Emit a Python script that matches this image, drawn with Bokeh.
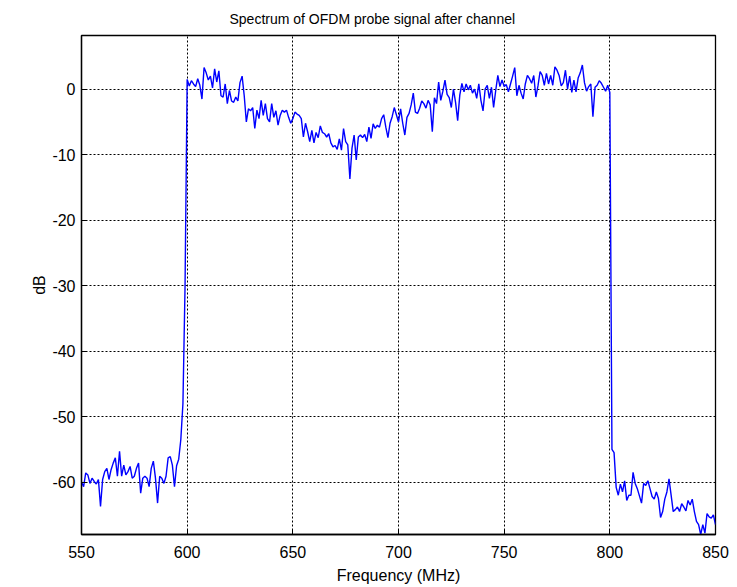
from bokeh.plotting import figure
from bokeh.models import Range1d, FixedTicker, ColumnDataSource, PrintfTickFormatter
from bokeh.embed import file_html
from bokeh.resources import INLINE

# ---- data ----
freq_start = 550  # MHz, 1 MHz spacing
pre_band = [
    -60.0, -60.7, -58.6, -58.9, -60.2, -59.4, -59.9, -60.3, -59.6, -63.7,
    -59.6, -58.4, -57.9, -59.6, -58.1, -57.1, -56.3, -59.1, -55.3, -59.1,
    -57.4, -58.9, -58.4, -57.6, -59.4, -59.1, -57.9, -57.1, -61.7, -59.4,
    -59.1, -59.4, -60.7, -57.9, -56.8, -59.4, -63.2, -59.1, -59.4, -60.2,
    -59.1, -56.3, -56.1, -57.4, -60.7, -57.5, -56.5, -53.5, -48.0, -30.0,
]
band_low = [
    1.5, 0.5, 1.3, 0.8, 0.4, 1.6, 0.6, -1.5, 3.3, 2.5,
    1.4, 2.0, 0.2, 3.1, 1.1, 2.8, -1.0, -1.2, 0.8, -2.2,
    -0.2, -1.8, -2.0, -1.2, -1.8, 1.0, 2.0, -1.0, -5.0, -3.0,
    -3.3, -2.8, -6.0, -3.2, -4.5, -1.7, -4.0, -2.2, -4.5, -5.0,
    -2.2, -4.3, -3.3, -5.5, -4.0, -3.2, -3.5, -3.2, -4.3, -5.2,
    -4.5, -3.5, -3.8, -4.0, -4.5, -7.3, -5.2, -6.5, -8.0, -6.3,
    -8.2, -6.6, -7.4, -5.6, -6.6, -6.8, -7.3, -6.8, -8.2, -8.8,
    -8.6, -9.2, -7.6, -9.3, -6.0, -8.0, -8.5, -13.7, -9.0, -7.0,
    -10.8, -7.3, -7.0, -7.4, -6.9, -8.0, -5.8, -7.5, -5.3, -6.0,
    -5.5, -5.8, -4.5, -3.9, -5.8, -7.4, -5.2, -4.2, -2.8, -3.9,
]
band_high = [
    -5.0, -3.0, -5.2, -7.0, -4.3, -3.7, -2.4, -0.6, -3.5, -3.7,
    -2.9, -1.8, -2.2, -2.9, -1.7, -2.4, -6.5, -1.3, -2.2, 1.1,
    -1.7, -0.3, 1.4, -0.8, -1.3, -2.8, 0.0, -2.0, -4.8, -0.9,
    0.9, -0.4, 0.8, -0.1, 0.6, -0.6, 0.0, -1.4, 0.8, -1.7,
    -3.3, 0.0, 0.6, -1.4, 0.3, -2.8, -0.2, 2.1, 0.4, 1.4,
    0.4, 0.7, -0.4, 0.8, 2.0, 3.3, -1.0, 0.6, -0.6, -1.5,
    0.8, 2.1, 1.6, 0.9, 2.1, -1.2, 0.5, 2.7, 2.1, 0.6,
    2.4, 0.8, 2.1, 0.6, 3.4, 2.9, 2.1, 0.5, 1.0, 2.9,
    0.0, 2.0, -0.5, 1.4, -0.4, 1.7, 2.5, 3.7, 1.0, -0.3,
    0.4, 0.8, -4.2, 0.3, 0.6, 1.3, 0.9, 0.3, -0.3, 0.6,
    -0.5,
]
post_band = [
    -55.0, -55.5, -60.8, -62.0, -60.3, -61.5, -59.8, -62.8, -62.0, -62.0,
    -58.5, -60.2, -61.0, -62.1, -63.2, -60.2, -60.5, -59.8, -61.0, -62.2,
    -62.6, -61.5, -62.5, -65.4, -64.5, -62.6, -61.5, -59.5, -62.0, -64.5,
    -64.2, -63.8, -64.5, -63.3, -63.8, -64.4, -62.8, -63.5, -62.6, -64.5,
    -66.0, -66.5, -68.0, -66.5, -67.8, -64.8, -65.3, -65.5, -65.0, -66.5,
]
x_ticks = [550, 600, 650, 700, 750, 800, 850]
y_ticks = [-60, -50, -40, -30, -20, -10, 0]

db = pre_band + band_low + band_high + post_band
freq = [freq_start + i for i in range(len(db))]
src = ColumnDataSource(data=dict(f=freq, db=db))

FONT = "Liberation Sans"

p = figure(width=737, height=587, output_backend="svg", toolbar_location=None,
           x_range=Range1d(550, 850), y_range=Range1d(-68, 8.2),
           title="Spectrum of OFDM probe signal after channel",
           min_border_left=81, min_border_right=22, min_border_top=35,
           min_border_bottom=53, x_axis_label="Frequency (MHz)", y_axis_label="dB")
p.background_fill_color = "white"
p.border_fill_color = "white"
p.outline_line_color = "black"
p.outline_line_width = 1.3

p.title.align = "left"
p.title.offset = 148
p.title.standoff = 17
p.title.text_font = FONT
p.title.text_font_size = "14px"
p.title.text_font_style = "normal"
p.title.text_color = "black"

for ax in (p.xaxis[0], p.yaxis[0]):
    ax.major_tick_in = 5
    ax.major_tick_out = 0
    ax.minor_tick_line_color = None
    ax.axis_line_color = "black"
    ax.axis_line_width = 1.3
    ax.major_tick_line_color = "black"
    ax.major_label_text_font = FONT
    ax.major_label_text_font_size = "16px"
    ax.major_label_text_color = "black"
    ax.axis_label_text_font = FONT
    ax.axis_label_text_font_size = "16px"
    ax.axis_label_text_font_style = "normal"
    ax.axis_label_text_color = "black"
    ax.formatter = PrintfTickFormatter(format="%d")

p.xaxis[0].ticker = FixedTicker(ticks=x_ticks)
p.yaxis[0].ticker = FixedTicker(ticks=y_ticks)
p.xaxis[0].major_label_standoff = 11
p.yaxis[0].major_label_standoff = 6
p.xaxis[0].axis_label_standoff = 6
p.yaxis[0].axis_label_standoff = 1

for g, tick in ((p.xgrid[0], x_ticks), (p.ygrid[0], y_ticks)):
    g.ticker = FixedTicker(ticks=tick)
    g.grid_line_color = "black"
    g.grid_line_dash = "2 2"
    g.grid_line_width = 1
    g.grid_line_alpha = 1.0

p.line("f", "db", source=src, line_color="#0000ff", line_width=1.4)

open("out.html", "w").write(file_html(p, INLINE))
